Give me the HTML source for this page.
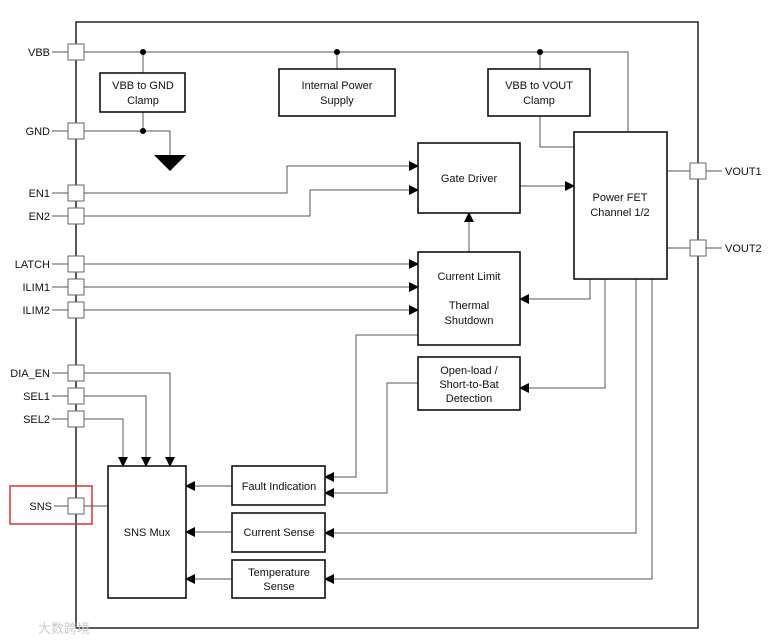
<!DOCTYPE html>
<html><head><style>body{margin:0;background:#fff}svg{display:block}text{font-family:"Liberation Sans",Arial,sans-serif;font-size:11px;fill:#111}</style></head>
<body>
<svg width="783" height="644" viewBox="0 0 783 644" xmlns="http://www.w3.org/2000/svg">
<defs><marker id="a" markerWidth="10" markerHeight="10" refX="9" refY="5" orient="auto" markerUnits="userSpaceOnUse"><path d="M0,0 L10,5 L0,10 z" fill="#000"/></marker></defs>
<rect x="76" y="22" width="622" height="606" fill="none" stroke="#222" stroke-width="1.5"/>
<g stroke="#555" stroke-width="1" fill="none">
<polyline points="84,52 628,52 628,132"/>
<line x1="143" y1="52" x2="143" y2="73"/><line x1="337" y1="52" x2="337" y2="69"/><line x1="540" y1="52" x2="540" y2="69"/>
<line x1="143" y1="112" x2="143" y2="131"/>
<polyline points="84,131 170,131 170,155"/>
<polyline points="540,116 540,147 574,147"/>
<polyline points="84,193 287,193 287,166 418,166" marker-end="url(#a)"/>
<polyline points="84,216 310,216 310,190 418,190" marker-end="url(#a)"/>
<line x1="520" y1="186" x2="574" y2="186" marker-end="url(#a)"/>
<line x1="469" y1="252" x2="469" y2="213" marker-end="url(#a)"/>
<line x1="84" y1="264" x2="418" y2="264" marker-end="url(#a)"/>
<line x1="84" y1="287" x2="418" y2="287" marker-end="url(#a)"/>
<line x1="84" y1="310" x2="418" y2="310" marker-end="url(#a)"/>
<polyline points="590,279 590,299 520,299" marker-end="url(#a)"/>
<polyline points="605,279 605,388 520,388" marker-end="url(#a)"/>
<polyline points="636,279 636,533 325,533" marker-end="url(#a)"/>
<polyline points="652,279 652,579 325,579" marker-end="url(#a)"/>
<polyline points="418,335 356,335 356,477 325,477" marker-end="url(#a)"/>
<polyline points="418,383 387,383 387,493 325,493" marker-end="url(#a)"/>
<line x1="232" y1="486" x2="186" y2="486" marker-end="url(#a)"/>
<line x1="232" y1="532" x2="186" y2="532" marker-end="url(#a)"/>
<line x1="232" y1="579" x2="186" y2="579" marker-end="url(#a)"/>
<polyline points="84,373 170,373 170,466" marker-end="url(#a)"/>
<polyline points="84,396 146,396 146,466" marker-end="url(#a)"/>
<polyline points="84,419 123,419 123,466" marker-end="url(#a)"/>
<line x1="84" y1="506" x2="108" y2="506"/>
<line x1="667" y1="171" x2="690" y2="171"/><line x1="667" y1="248" x2="690" y2="248"/>
<line x1="706" y1="171" x2="722" y2="171"/><line x1="706" y1="248" x2="722" y2="248"/>
</g>
<g stroke="#555"><line x1="52" y1="52" x2="68" y2="52"/><line x1="52" y1="131" x2="68" y2="131"/><line x1="52" y1="193" x2="68" y2="193"/><line x1="52" y1="216" x2="68" y2="216"/><line x1="52" y1="264" x2="68" y2="264"/><line x1="52" y1="287" x2="68" y2="287"/><line x1="52" y1="310" x2="68" y2="310"/><line x1="52" y1="373" x2="68" y2="373"/><line x1="52" y1="396" x2="68" y2="396"/><line x1="52" y1="419" x2="68" y2="419"/><line x1="54" y1="506" x2="68" y2="506"/></g>
<g fill="#000"><circle cx="143" cy="52" r="3"/><circle cx="337" cy="52" r="3"/><circle cx="540" cy="52" r="3"/><circle cx="143" cy="131" r="3"/><path d="M154,155 L186,155 L170,171 z"/></g>
<g fill="#fff" stroke="#666" stroke-width="1">
<rect x="68" y="44" width="16" height="16"/><rect x="68" y="123" width="16" height="16"/><rect x="68" y="185" width="16" height="16"/><rect x="68" y="208" width="16" height="16"/><rect x="68" y="256" width="16" height="16"/><rect x="68" y="279" width="16" height="16"/><rect x="68" y="302" width="16" height="16"/><rect x="68" y="365" width="16" height="16"/><rect x="68" y="388" width="16" height="16"/><rect x="68" y="411" width="16" height="16"/><rect x="68" y="498" width="16" height="16"/><rect x="690" y="163" width="16" height="16"/><rect x="690" y="240" width="16" height="16"/>
</g>
<g fill="#fff" stroke="#111" stroke-width="1.6">
<rect x="100" y="73" width="85" height="39"/><rect x="279" y="69" width="116" height="47"/><rect x="488" y="69" width="102" height="47"/>
<rect x="574" y="132" width="93" height="147"/><rect x="418" y="143" width="102" height="70"/><rect x="418" y="252" width="102" height="93"/><rect x="418" y="357" width="102" height="53"/>
<rect x="108" y="466" width="78" height="132"/><rect x="232" y="466" width="93" height="39"/><rect x="232" y="513" width="93" height="39"/><rect x="232" y="560" width="93" height="38"/>
</g>
<rect x="10" y="486" width="82" height="38" fill="none" stroke="#d33" stroke-width="1.5"/>
<g text-anchor="end"><text x="50" y="56">VBB</text><text x="50" y="135">GND</text><text x="50" y="197">EN1</text><text x="50" y="220">EN2</text><text x="50" y="268">LATCH</text><text x="50" y="291">ILIM1</text><text x="50" y="314">ILIM2</text><text x="50" y="377">DIA_EN</text><text x="50" y="400">SEL1</text><text x="50" y="423">SEL2</text><text x="52" y="510">SNS</text></g>
<text x="725" y="175">VOUT1</text><text x="725" y="252">VOUT2</text>
<g text-anchor="middle"><text x="143" y="89">VBB to GND</text><text x="143" y="104">Clamp</text><text x="337" y="89">Internal Power</text><text x="337" y="104">Supply</text><text x="539" y="89">VBB to VOUT</text><text x="539" y="104">Clamp</text>
<text x="469" y="182">Gate Driver</text><text x="620" y="201">Power FET</text><text x="620" y="216">Channel 1/2</text>
<text x="469" y="280">Current Limit</text><text x="469" y="309">Thermal</text><text x="469" y="324">Shutdown</text>
<text x="469" y="374">Open-load /</text><text x="469" y="388">Short-to-Bat</text><text x="469" y="402">Detection</text>
<text x="147" y="536">SNS Mux</text><text x="279" y="490">Fault Indication</text><text x="279" y="536">Current Sense</text><text x="279" y="576">Temperature</text><text x="279" y="590">Sense</text></g>
<text x="38" y="633" style="fill:#ccc;font-size:13px;font-family:'Liberation Sans','Noto Sans CJK SC',sans-serif">大数跨境</text>
</svg>
</body></html>
